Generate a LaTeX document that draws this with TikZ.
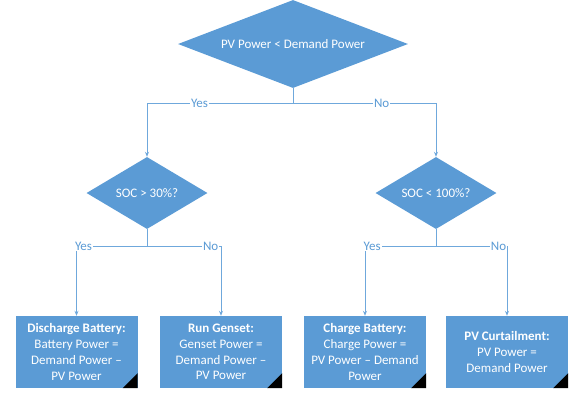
\documentclass[tikz,border=0pt]{standalone}
\usepackage{fontspec}
\setmainfont{Carlito}
\usetikzlibrary{shapes.geometric,arrows.meta}
\definecolor{flowblue}{HTML}{5B9BD5}
\definecolor{linkblue}{HTML}{6FA8DC}
\begin{document}
\begin{tikzpicture}[x=1pt,y=1pt,
    every node/.style={font=\fontsize{13}{15.7}\selectfont},
    decision/.style={diamond,fill=flowblue,text=white,inner sep=0pt},
    action/.style={rectangle,fill=flowblue,text=white,align=center,
        minimum width=122pt,minimum height=72pt,inner sep=0pt},
    link/.style={draw=linkblue,line width=0.8pt},
    answer/.style={fill=white,text=flowblue,inner sep=1pt}]
    \useasboundingbox (0,0) rectangle (571,-392);

    % decisions
    \node[decision,aspect=2.6,minimum width=230pt,minimum height=88pt] (pvq) at (293,-44) {PV Power < Demand Power};
    \node[decision,aspect=1.7,minimum width=121pt,minimum height=72pt] (socl) at (147,-193) {SOC > 30\%?};
    \node[decision,aspect=1.7,minimum width=121pt,minimum height=72pt] (soch) at (436,-193) {SOC < 100\%?};

    % actions
    \node[action] (dis) at (76.5,-352) {\textbf{Discharge Battery:}\\Battery Power =\\Demand Power –\\PV Power};
    \node[action] (gen) at (221,-352) {\textbf{Run Genset:}\\Genset Power =\\Demand Power –\\PV Power};
    \node[action] (chg) at (365,-352) {\textbf{Charge Battery:}\\Charge Power =\\PV Power – Demand\\Power};
    \node[action] (cur) at (507,-352) {\textbf{PV Curtailment:}\\PV Power =\\Demand Power};
    \foreach \b in {dis,gen,chg,cur}
        \fill (\b.south east) -- ++(-15,0) -- ++(15,15) -- cycle;

    % branch points
    \coordinate (j1) at (293,-103);
    \coordinate (j2) at (147,-246);
    \coordinate (j3) at (436,-246);

    \draw[link] (pvq.south) -- (j1);
    \draw[link,-{Stealth[length=5pt,width=4pt]}] (j1) -| node[answer,pos=0.32] {Yes} (socl.north);
    \draw[link,-{Stealth[length=5pt,width=4pt]}] (j1) -| node[answer,pos=0.31] {No} (soch.north);

    \draw[link] (socl.south) -- (j2);
    \draw[link,-{Stealth[length=5pt,width=4pt]}] (j2) -| node[answer,pos=0.45] {Yes} (dis.north);
    \draw[link,-{Stealth[length=5pt,width=4pt]}] (j2) -| node[answer,pos=0.43] {No} (gen.north);

    \draw[link] (soch.south) -- (j3);
    \draw[link,-{Stealth[length=5pt,width=4pt]}] (j3) -| node[answer,pos=0.45] {Yes} (chg.north);
    \draw[link,-{Stealth[length=5pt,width=4pt]}] (j3) -| node[answer,pos=0.44] {No} (cur.north);
\end{tikzpicture}
\end{document}
